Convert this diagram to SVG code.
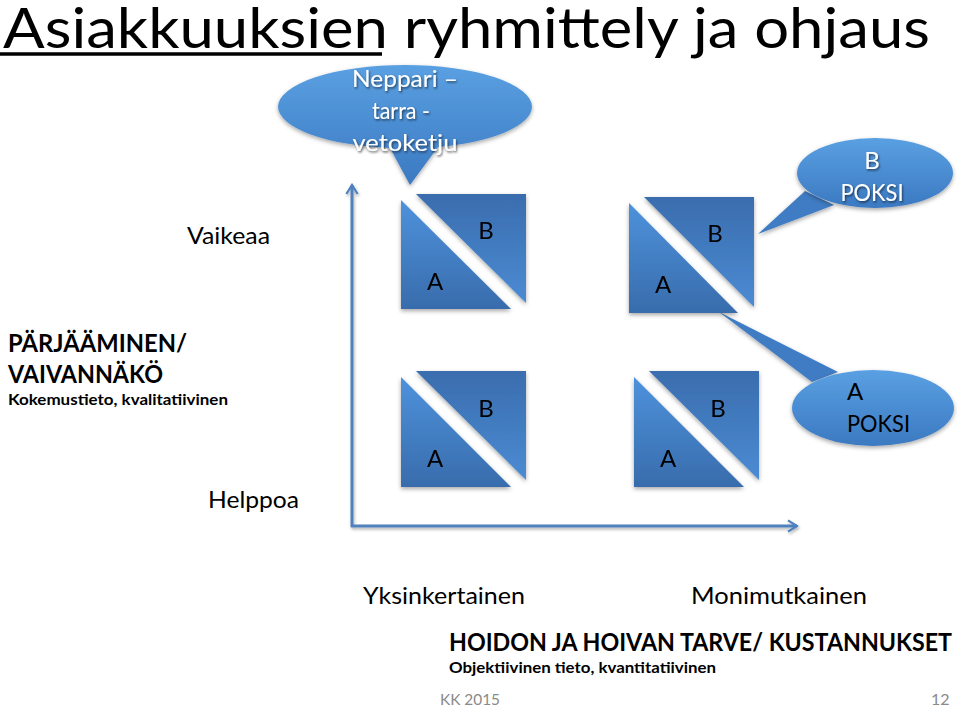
<svg xmlns="http://www.w3.org/2000/svg" width="960" height="707" viewBox="0 0 960 707">
<style>
text{font-family:Lato,"Open Sans","Liberation Sans",sans-serif;fill:#000}
.lbl{font-size:24px;text-anchor:middle}
.reg{font-size:24px}
.bold{font-weight:bold}
.white{fill:#fff}
.foot{font-size:16px;fill:#8a8a8a}
.axis{stroke:#4f81bd;stroke-width:3;fill:none}
</style>
<defs>
<linearGradient id="gA" x1="0" y1="0" x2="0" y2="1">
<stop offset="0" stop-color="#4e92dc"/><stop offset="1" stop-color="#386cac"/>
</linearGradient>
<linearGradient id="gB" x1="0" y1="0" x2="0" y2="1">
<stop offset="0" stop-color="#3a6dae"/><stop offset="1" stop-color="#4b8bd3"/>
</linearGradient>
<linearGradient id="gE" x1="0" y1="0" x2="0" y2="1">
<stop offset="0" stop-color="#5aa0e2"/><stop offset="1" stop-color="#3b79c1"/>
</linearGradient>
<filter id="sh" x="-20%" y="-20%" width="140%" height="150%">
<feDropShadow dx="0" dy="2" stdDeviation="2" flood-color="#000" flood-opacity="0.35"/>
</filter>
<filter id="lsh" filterUnits="userSpaceOnUse" x="330" y="170" width="490" height="375">
<feDropShadow dx="1" dy="2" stdDeviation="1.5" flood-color="#000" flood-opacity="0.3"/>
</filter>
<filter id="tsh" x="-10%" y="-30%" width="120%" height="160%">
<feDropShadow dx="1" dy="1.5" stdDeviation="1" flood-color="#000" flood-opacity="0.6"/>
</filter>
<marker id="arr" viewBox="0 0 12 12" refX="10" refY="6" markerWidth="4.5" markerHeight="4.5" orient="auto" markerUnits="strokeWidth">
<polyline points="2,1 10,6 2,11" fill="none" stroke="#4f81bd" stroke-width="2"/>
</marker>
</defs>

<g id="title">
<text x="3" y="48" font-size="56" textLength="927" lengthAdjust="spacingAndGlyphs">Asiakkuuksien ryhmittely ja ohjaus</text>
<line x1="0" y1="54" x2="382" y2="54" stroke="#000" stroke-width="3.5"/>
</g>

<g id="axes" filter="url(#lsh)">
<line class="axis" x1="352" y1="527" x2="352" y2="185" marker-end="url(#arr)"/>
<line class="axis" x1="351" y1="526" x2="797" y2="526" marker-end="url(#arr)"/>
</g>

<g id="callout-neppari">
<path d="M278,107 A127,42 0 0 1 532,107 A127,42 0 0 1 438,147 L410,185 L390,148 A127,42 0 0 1 278,107 Z" fill="url(#gE)" filter="url(#sh)"/>
<g filter="url(#tsh)">
<text class="lbl white" x="405" y="87" textLength="106" lengthAdjust="spacingAndGlyphs">Neppari –</text>
<text class="lbl white" x="401" y="119" textLength="58" lengthAdjust="spacingAndGlyphs">tarra -</text>
<text class="lbl white" x="405" y="151" textLength="105" lengthAdjust="spacingAndGlyphs">vetoketju</text>
</g>
</g>

<g id="callout-bpoksi">
<path d="M805,191 L758,234 L834,205 Z" fill="#3f7cc3" filter="url(#sh)"/>
<ellipse cx="875" cy="173" rx="78" ry="35" fill="url(#gE)" filter="url(#sh)"/>
<g filter="url(#tsh)">
<text class="lbl white" x="872" y="169">B</text>
<text class="lbl white" x="872" y="201" textLength="63" lengthAdjust="spacingAndGlyphs">POKSI</text>
</g>
</g>

<g id="callout-apoksi">
<path d="M719,312 L812,382 L838,372 Z" fill="#3f7cc3" filter="url(#sh)"/>
<ellipse cx="873" cy="408" rx="81" ry="38" fill="url(#gE)" filter="url(#sh)"/>
<text class="reg" x="847" y="400">A</text>
<text class="reg" x="847" y="432" textLength="63" lengthAdjust="spacingAndGlyphs">POKSI</text>
</g>

<g id="square-top-left" filter="url(#sh)">
<polygon points="401,200 401,309 511,309" fill="url(#gA)"/>
<polygon points="416,194 526,194 526,303" fill="url(#gB)"/>
<text class="lbl" x="486" y="239">B</text>
<text class="lbl" x="435" y="290">A</text>
</g>

<g id="square-top-right" filter="url(#sh)">
<polygon points="629,203 629,313 738,313" fill="url(#gA)"/>
<polygon points="644,197 754,197 754,307" fill="url(#gB)"/>
<text class="lbl" x="715" y="242">B</text>
<text class="lbl" x="663" y="293">A</text>
</g>

<g id="square-bottom-left" filter="url(#sh)">
<polygon points="401,377 401,487 511,487" fill="url(#gA)"/>
<polygon points="416,371 526,371 526,480" fill="url(#gB)"/>
<text class="lbl" x="486" y="417">B</text>
<text class="lbl" x="435" y="467">A</text>
</g>

<g id="square-bottom-right" filter="url(#sh)">
<polygon points="634,377 634,487 744,487" fill="url(#gA)"/>
<polygon points="649,371 759,371 759,480" fill="url(#gB)"/>
<text class="lbl" x="718" y="417">B</text>
<text class="lbl" x="668" y="467">A</text>
</g>

<g id="y-labels">
<text class="reg" x="187" y="244" textLength="83" lengthAdjust="spacingAndGlyphs">Vaikeaa</text>
<text class="bold" x="8" y="352" font-size="24" textLength="179" lengthAdjust="spacingAndGlyphs">PÄRJÄÄMINEN/</text>
<text class="bold" x="8" y="383" font-size="24" textLength="155" lengthAdjust="spacingAndGlyphs">VAIVANNÄKÖ</text>
<text class="bold" x="8" y="405" font-size="15" textLength="220" lengthAdjust="spacingAndGlyphs">Kokemustieto, kvalitatiivinen</text>
<text class="reg" x="208" y="508" textLength="91" lengthAdjust="spacingAndGlyphs">Helppoa</text>
</g>

<g id="x-labels">
<text class="reg" x="363" y="604" textLength="162" lengthAdjust="spacingAndGlyphs">Yksinkertainen</text>
<text class="reg" x="691" y="604" textLength="176" lengthAdjust="spacingAndGlyphs">Monimutkainen</text>
<text class="bold" x="449" y="651" font-size="24" textLength="503" lengthAdjust="spacingAndGlyphs">HOIDON JA HOIVAN TARVE/ KUSTANNUKSET</text>
<text class="bold" x="449" y="673" font-size="15" textLength="267" lengthAdjust="spacingAndGlyphs">Objektiivinen tieto, kvantitatiivinen</text>
</g>

<g id="footer">
<text class="foot" x="440" y="705" textLength="60" lengthAdjust="spacingAndGlyphs">KK 2015</text>
<text class="foot" x="931" y="705">12</text>
</g>
</svg>
